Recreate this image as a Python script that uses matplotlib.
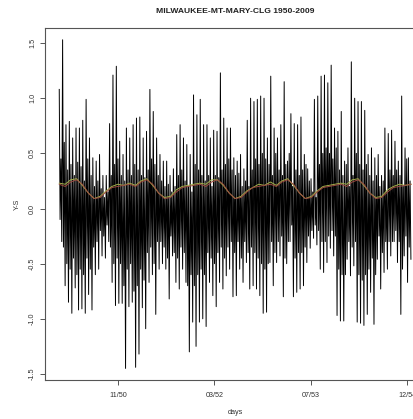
import numpy as np
import pandas as pd
import matplotlib
matplotlib.use("Agg")
import matplotlib.pyplot as plt
import matplotlib.dates as mdates

# Y-S series, read per ~17-day block, Jan 1950 - Dec 1954:
# outer spikes (high / low) and the dense core (inner_hi / inner_lo)
highs = [
    1.08, 1.53, 0.76, 0.79, 0.64, 0.73, 0.73, 0.80, 0.99, 0.64,
    0.46, 0.43, 0.49, 0.30, 0.30, 0.77, 1.21, 1.29, 0.61, 0.49,
    0.73, 0.64, 0.76, 0.82, 0.83, 0.64, 0.70, 1.08, 0.88, 0.64,
    0.49, 0.43, 0.43,
    0.30, 0.36, 0.67, 0.76, 0.64, 0.58, 0.49, 1.03, 0.85, 0.99,
    0.76, 0.76, 0.64, 0.71, 0.70, 1.23, 0.82, 0.73, 0.73, 0.46,
    0.43, 0.49, 0.36, 0.80, 1.00, 0.97, 0.99, 1.02, 1.00, 0.64,
    1.20, 0.73, 0.64, 0.76, 1.15, 0.43,
    0.86, 0.77, 0.76, 0.83, 0.49, 0.36, 0.27, 0.99, 1.02, 1.20,
    1.21, 1.14, 1.30, 0.73, 0.70, 0.88, 0.43, 0.55, 1.33, 1.00,
    0.97, 0.97, 0.89, 0.49, 0.55, 0.46, 0.49, 0.30, 0.73, 0.68,
    0.71, 0.61, 0.43, 1.02, 0.55, 0.46,
]
lows = [
    -0.30, -0.70, -0.85, -0.95, -0.72, -0.92, -0.91, -0.95, -0.78, -0.92,
    -0.60, -0.55, -0.43, -0.45, -0.30, -0.67, -0.88, -0.86, -0.86, -1.45,
    -0.89, -0.85, -1.44, -1.32, -0.90, -1.09, -0.67, -0.60, -0.96, -0.55,
    -0.50, -0.55, -0.82,
    -0.43, -0.67, -0.73, -0.55, -0.67, -1.30, -1.03, -1.25, -1.03, -1.00,
    -1.07, -0.67, -0.79, -0.89, -0.67, -0.73, -0.61, -0.55, -0.80, -0.79,
    -0.55, -0.67, -0.49, -0.73, -0.70, -0.73, -0.79, -0.95, -0.94, -0.49,
    -0.70, -0.49, -0.43, -0.80, -0.50, -0.30,
    -0.80, -0.76, -0.73, -0.70, -0.49, -0.36, -0.27, -0.33, -0.55, -0.58,
    -0.49, -0.36, -0.43, -0.97, -1.02, -1.02, -0.46, -0.61, -0.52, -1.03,
    -1.04, -1.06, -0.96, -0.76, -1.05, -0.46, -0.73, -0.58, -0.55, -0.43,
    -0.30, -0.49, -0.96, -0.43, -0.67, -0.46,
]
inner_hi = [
    0.45, 0.60, 0.35, 0.40, 0.30, 0.42, 0.38, 0.25, 0.45, 0.30, 0.20,
    0.25, 0.18, 0.10, 0.15, 0.30, 0.40, 0.45,
    0.30, 0.25, 0.35, 0.30, 0.40, 0.35, 0.30, 0.28, 0.35, 0.45,
    0.40, 0.30, 0.25, 0.20, 0.22,
    0.15, 0.20, 0.30, 0.35, 0.25, 0.20, 0.15, 0.40, 0.35, 0.30, 0.25, 0.30, 0.20,
    0.30, 0.28, 0.35, 0.40, 0.45, 0.35, 0.30, 0.32, 0.20, 0.25, 0.20, 0.35,
    0.45, 0.40, 0.50, 0.45, 0.40, 0.30, 0.50, 0.35, 0.30, 0.40, 0.50, 0.20,
    0.35, 0.30, 0.35, 0.40, 0.25, 0.15, 0.10, 0.40,
    0.50, 0.55, 0.50, 0.45, 0.55, 0.35, 0.30, 0.40, 0.20, 0.30,
    0.50, 0.40, 0.35, 0.40, 0.30, 0.25, 0.30, 0.20,
    0.25, 0.15, 0.35, 0.30, 0.35, 0.30, 0.20, 0.45, 0.25,
]
inner_lo = [
    -0.10, -0.35, -0.50, -0.55, -0.45, -0.60, -0.55, -0.60, -0.45, -0.55, -0.35,
    -0.30, -0.20, -0.25, -0.15, -0.35, -0.50, -0.45,
    -0.50, -0.70, -0.55, -0.50, -0.75, -0.70, -0.55, -0.65, -0.40, -0.35,
    -0.50, -0.30, -0.30, -0.35, -0.45,
    -0.25, -0.40, -0.45, -0.35, -0.40, -0.70, -0.60, -0.70, -0.60, -0.55, -0.60,
    -0.40, -0.45,
    -0.50, -0.40, -0.35, -0.45, -0.35, -0.30, -0.40, -0.30, -0.45, -0.30, -0.40,
    -0.35,
    -0.40, -0.45, -0.50, -0.55, -0.50, -0.30, -0.40, -0.30, -0.25, -0.45, -0.30,
    -0.15,
    -0.45, -0.40, -0.40, -0.35, -0.25, -0.20, -0.15, -0.20,
    -0.30, -0.30, -0.25, -0.20, -0.25, -0.55, -0.60, -0.60, -0.30, -0.35,
    -0.30, -0.60, -0.65, -0.60, -0.55, -0.45, -0.60, -0.25,
    -0.40, -0.30, -0.30, -0.30, -0.20, -0.30, -0.55, -0.25, -0.35,
]

# smoothed seasonal curves, monthly values Jan 1950 .. Jan 1955
red_vals = [
    0.22, 0.20, 0.24, 0.26, 0.22, 0.14, 0.09, 0.10, 0.15, 0.19, 0.20, 0.21,
    0.22, 0.20, 0.24, 0.26, 0.22, 0.14, 0.09, 0.10, 0.15, 0.19, 0.20, 0.21,
    0.22, 0.20, 0.24, 0.26, 0.22, 0.14, 0.09, 0.10, 0.15, 0.19, 0.20, 0.21,
    0.22, 0.20, 0.24, 0.26, 0.22, 0.14, 0.09, 0.10, 0.15, 0.19, 0.20, 0.21,
    0.22, 0.20, 0.24, 0.26, 0.22, 0.14, 0.09, 0.10, 0.15, 0.19, 0.20, 0.21,
    0.22,
]
green_vals = [
    0.23, 0.22, 0.26, 0.27, 0.21, 0.14, 0.09, 0.11, 0.16, 0.20, 0.22, 0.21,
    0.23, 0.21, 0.25, 0.27, 0.21, 0.14, 0.10, 0.11, 0.17, 0.20, 0.21, 0.22,
    0.23, 0.22, 0.26, 0.26, 0.21, 0.14, 0.09, 0.11, 0.16, 0.19, 0.22, 0.21,
    0.24, 0.21, 0.25, 0.27, 0.21, 0.14, 0.09, 0.11, 0.16, 0.20, 0.21, 0.22,
    0.23, 0.22, 0.26, 0.27, 0.21, 0.14, 0.10, 0.11, 0.17, 0.20, 0.22, 0.21,
    0.22,
]

tick_days = [-7000, -6500, -6000, -5500]  # days since 1970-01-01, as R does
yticks = [-1.5, -1.0, -0.5, 0.0, 0.5, 1.0, 1.5]


def main():
    plt.rcParams["font.family"] = ["Liberation Sans", "DejaVu Sans"]
    ys = np.ravel(np.column_stack([highs, inner_lo, inner_hi, lows]))
    dates = pd.date_range("1950-01-01", "1954-12-31", periods=len(ys))
    months = pd.date_range("1950-01-01", periods=len(red_vals), freq="MS")

    fig = plt.figure(figsize=(4.13, 4.19), dpi=100)
    ax = fig.add_axes([0.1094, 0.0931, 0.9196, 0.8401])
    ax.plot(dates, ys, color="black", lw=0.7)
    ax.plot(months, green_vals, color="#a3b04a", lw=0.7)
    ax.plot(months, red_vals, color="#9c4a40", lw=0.7)

    x0 = pd.Timestamp("1950-01-01") - pd.Timedelta(days=73)
    x1 = pd.Timestamp("1954-12-31") + pd.Timedelta(days=73)
    ax.set_xlim(x0, x1)
    ax.set_ylim(-1.555, 1.637)

    ticks = pd.Timestamp("1970-01-01") + pd.to_timedelta(tick_days, unit="D")
    ax.set_xticks(ticks)
    ax.xaxis.set_major_formatter(mdates.DateFormatter("%m/%y"))
    ax.set_yticks(yticks)
    ax.set_yticklabels([f"{v:.1f}" for v in yticks], rotation=90, va="center")

    for s in ax.spines.values():
        s.set_color("#555555")
        s.set_linewidth(0.8)
    ax.tick_params(direction="out", length=3.5, width=0.7, colors="#555555",
                   labelsize=5.2, labelcolor="#333333")
    ax.tick_params(axis="x", pad=5)
    ax.tick_params(axis="y", pad=3)

    ax.set_xlabel("days", fontsize=5.2, color="#333333", labelpad=7)
    ax.set_ylabel("Y-S", fontsize=5.2, color="#333333", labelpad=6)
    ax.set_title("MILWAUKEE-MT-MARY-CLG 1950-2009", fontsize=6.1,
                 fontweight="bold", color="#222222", x=0.5, pad=11)

    fig.savefig("out.png", dpi=100, facecolor="white")
    plt.close(fig)


if __name__ == "__main__":
    main()
